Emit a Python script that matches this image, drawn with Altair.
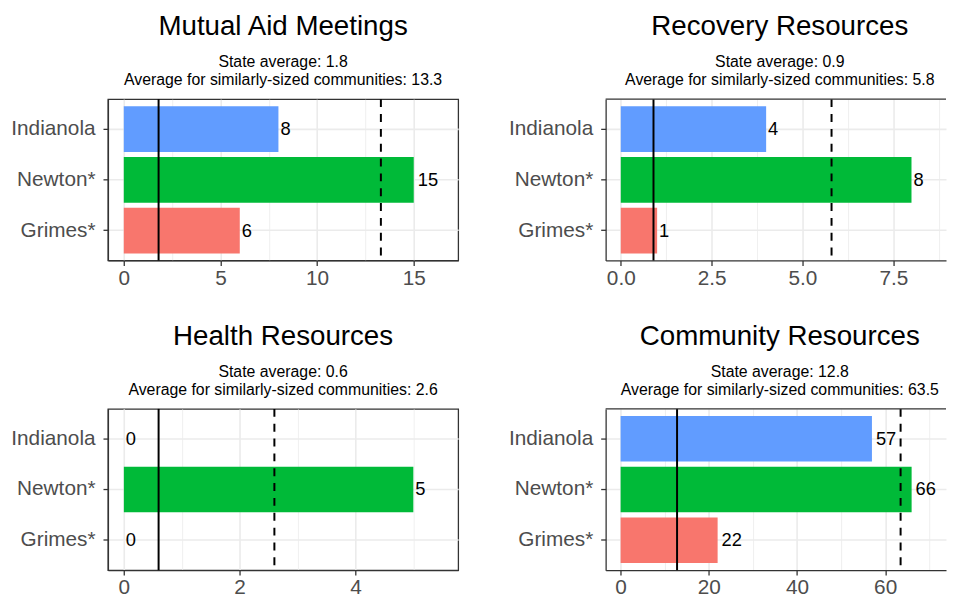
import altair as alt
import pandas as pd

# ---- data ----
TITLES = ["Mutual Aid Meetings", "Recovery Resources", "Health Resources", "Community Resources"]
COMMUNITIES = ["Grimes*", "Newton*", "Indianola"]
ORDER = ["Indianola", "Newton*", "Grimes*"]
GRIMES = [6, 1, 0, 22]
NEWTON = [15, 8, 5, 66]
INDIANOLA = [8, 4, 0, 57]
STATE_AVG = [1.8, 0.9, 0.6, 12.8]
SIMILAR_AVG = [13.3, 5.8, 2.6, 63.5]
MAJOR_TICKS = [[0, 5, 10, 15], [0, 2.5, 5, 7.5], [0, 2, 4], [0, 20, 40, 60]]
MINOR_TICKS = [[2.5, 7.5, 12.5], [1.25, 3.75, 6.25, 8.75], [1, 3, 5], [10, 30, 50, 70]]
TICK_FORMAT = ["d", ".1f", "d", "d"]
COLORS = ["#F8766D", "#00BA38", "#619CFF"]

# ---- layout (scale limits / sizes) ----
X_DOMAINS = [[-0.82, 17.3], [-0.417, 8.95], [-0.275, 5.775], [-3.4, 73.8]]
LEFT_W = 354
RIGHT_W = 344
PLOT_H = 163
FONT = "Liberation Sans"
GRID = "#EBEBEB"
DARK = "#333333"


def panel(i, right_side):
    width = RIGHT_W if right_side else LEFT_W
    df = pd.DataFrame({
        "community": COMMUNITIES,
        "value": [GRIMES[i], NEWTON[i], INDIANOLA[i]],
    })
    df["label"] = df["value"].astype(str)
    avg = pd.DataFrame({"state": [STATE_AVG[i]], "similar": [SIMILAR_AVG[i]]})

    majors = MAJOR_TICKS[i]
    ticks = sorted(majors + MINOR_TICKS[i])
    test = " || ".join(f"abs(datum.value - {m}) < 1e-9" for m in majors)

    xscale = alt.Scale(domain=X_DOMAINS[i], nice=False, zero=False)
    xaxis = alt.Axis(
        values=ticks, format=TICK_FORMAT[i], title=None,
        labelExpr=f"({test}) ? datum.label : ''",
        tickOpacity={"condition": {"test": test, "value": 1}, "value": 0},
        gridWidth={"condition": {"test": test, "value": 1.6}, "value": 0.8},
        gridColor=GRID, labelFontSize=21, labelColor="#4D4D4D", labelFont=FONT,
        tickSize=5, tickColor=DARK, tickWidth=1.3, domainColor=DARK, domainWidth=1.3,
        labelPadding=2, labelFlush=False, labelOverlap=False,
    )
    yaxis = alt.Axis(
        title=None, labelFontSize=21, labelColor="#4D4D4D", labelFont=FONT,
        tickSize=5, tickColor=DARK, tickWidth=1.3, domainColor=DARK, domainWidth=1.3,
        labelPadding=8, grid=True, gridColor=GRID, gridWidth=1.6, bandPosition=0.5,
    )
    yenc = alt.Y("community:N", sort=ORDER,
                 scale=alt.Scale(paddingInner=0.1, paddingOuter=0.139), axis=yaxis)

    base = alt.Chart(df).encode(y=yenc)
    bars = base.mark_bar().encode(
        x=alt.X("value:Q", scale=xscale, axis=xaxis),
        color=alt.Color("community:N", scale=alt.Scale(domain=COMMUNITIES, range=COLORS), legend=None),
    )
    txt1 = base.mark_text(align="left", baseline="middle", dx=2, fontSize=18.5, font=FONT, color="black").encode(
        x=alt.X("value:Q"), text="label:N").transform_filter("length(datum.label) == 1")
    txt2 = base.mark_text(align="left", baseline="middle", dx=4, fontSize=18.5, font=FONT, color="black").encode(
        x=alt.X("value:Q"), text="label:N").transform_filter("length(datum.label) == 2")
    state = alt.Chart(avg).mark_rule(color="black", strokeWidth=2).encode(x="state:Q")
    similar = alt.Chart(avg).mark_rule(color="black", strokeWidth=2, strokeDash=[8, 7]).encode(x="similar:Q")

    layers = [bars, state, similar, txt1, txt2]
    if right_side:
        top = alt.Chart(avg).mark_rule(color=DARK, strokeWidth=1.3).encode(
            x=alt.value(0), x2=alt.value(width), y=alt.value(0))
        layers.append(top)

    title = alt.TitleParams(
        text=TITLES[i],
        subtitle=[f"State average: {STATE_AVG[i]}",
                  f"Average for similarly-sized communities: {SIMILAR_AVG[i]}"],
        fontSize=28, font=FONT, fontWeight="normal", color="black",
        subtitleFontSize=16, subtitleFont=FONT, subtitleColor="black",
        subtitleLineHeight=18.5, subtitlePadding=13,
        anchor="middle", frame="group", offset=10,
        dx=4 if right_side else 0,
    )
    chart = alt.layer(*layers).properties(width=width, height=PLOT_H, title=title)
    if right_side:
        chart = chart.properties(view=alt.ViewBackground(stroke=None))
    else:
        chart = chart.properties(view=alt.ViewBackground(stroke=DARK, strokeWidth=1.3))
    return chart


row1 = alt.hconcat(panel(0, False), panel(1, True), spacing=49)
row2 = alt.hconcat(panel(2, False), panel(3, True), spacing=49)
chart = alt.vconcat(row1, row2, spacing=33).properties(
    padding={"left": 2, "top": 1, "right": 0, "bottom": 0}, background="white")

chart.save("out.html", embed_options={"renderer": "svg", "actions": False})
